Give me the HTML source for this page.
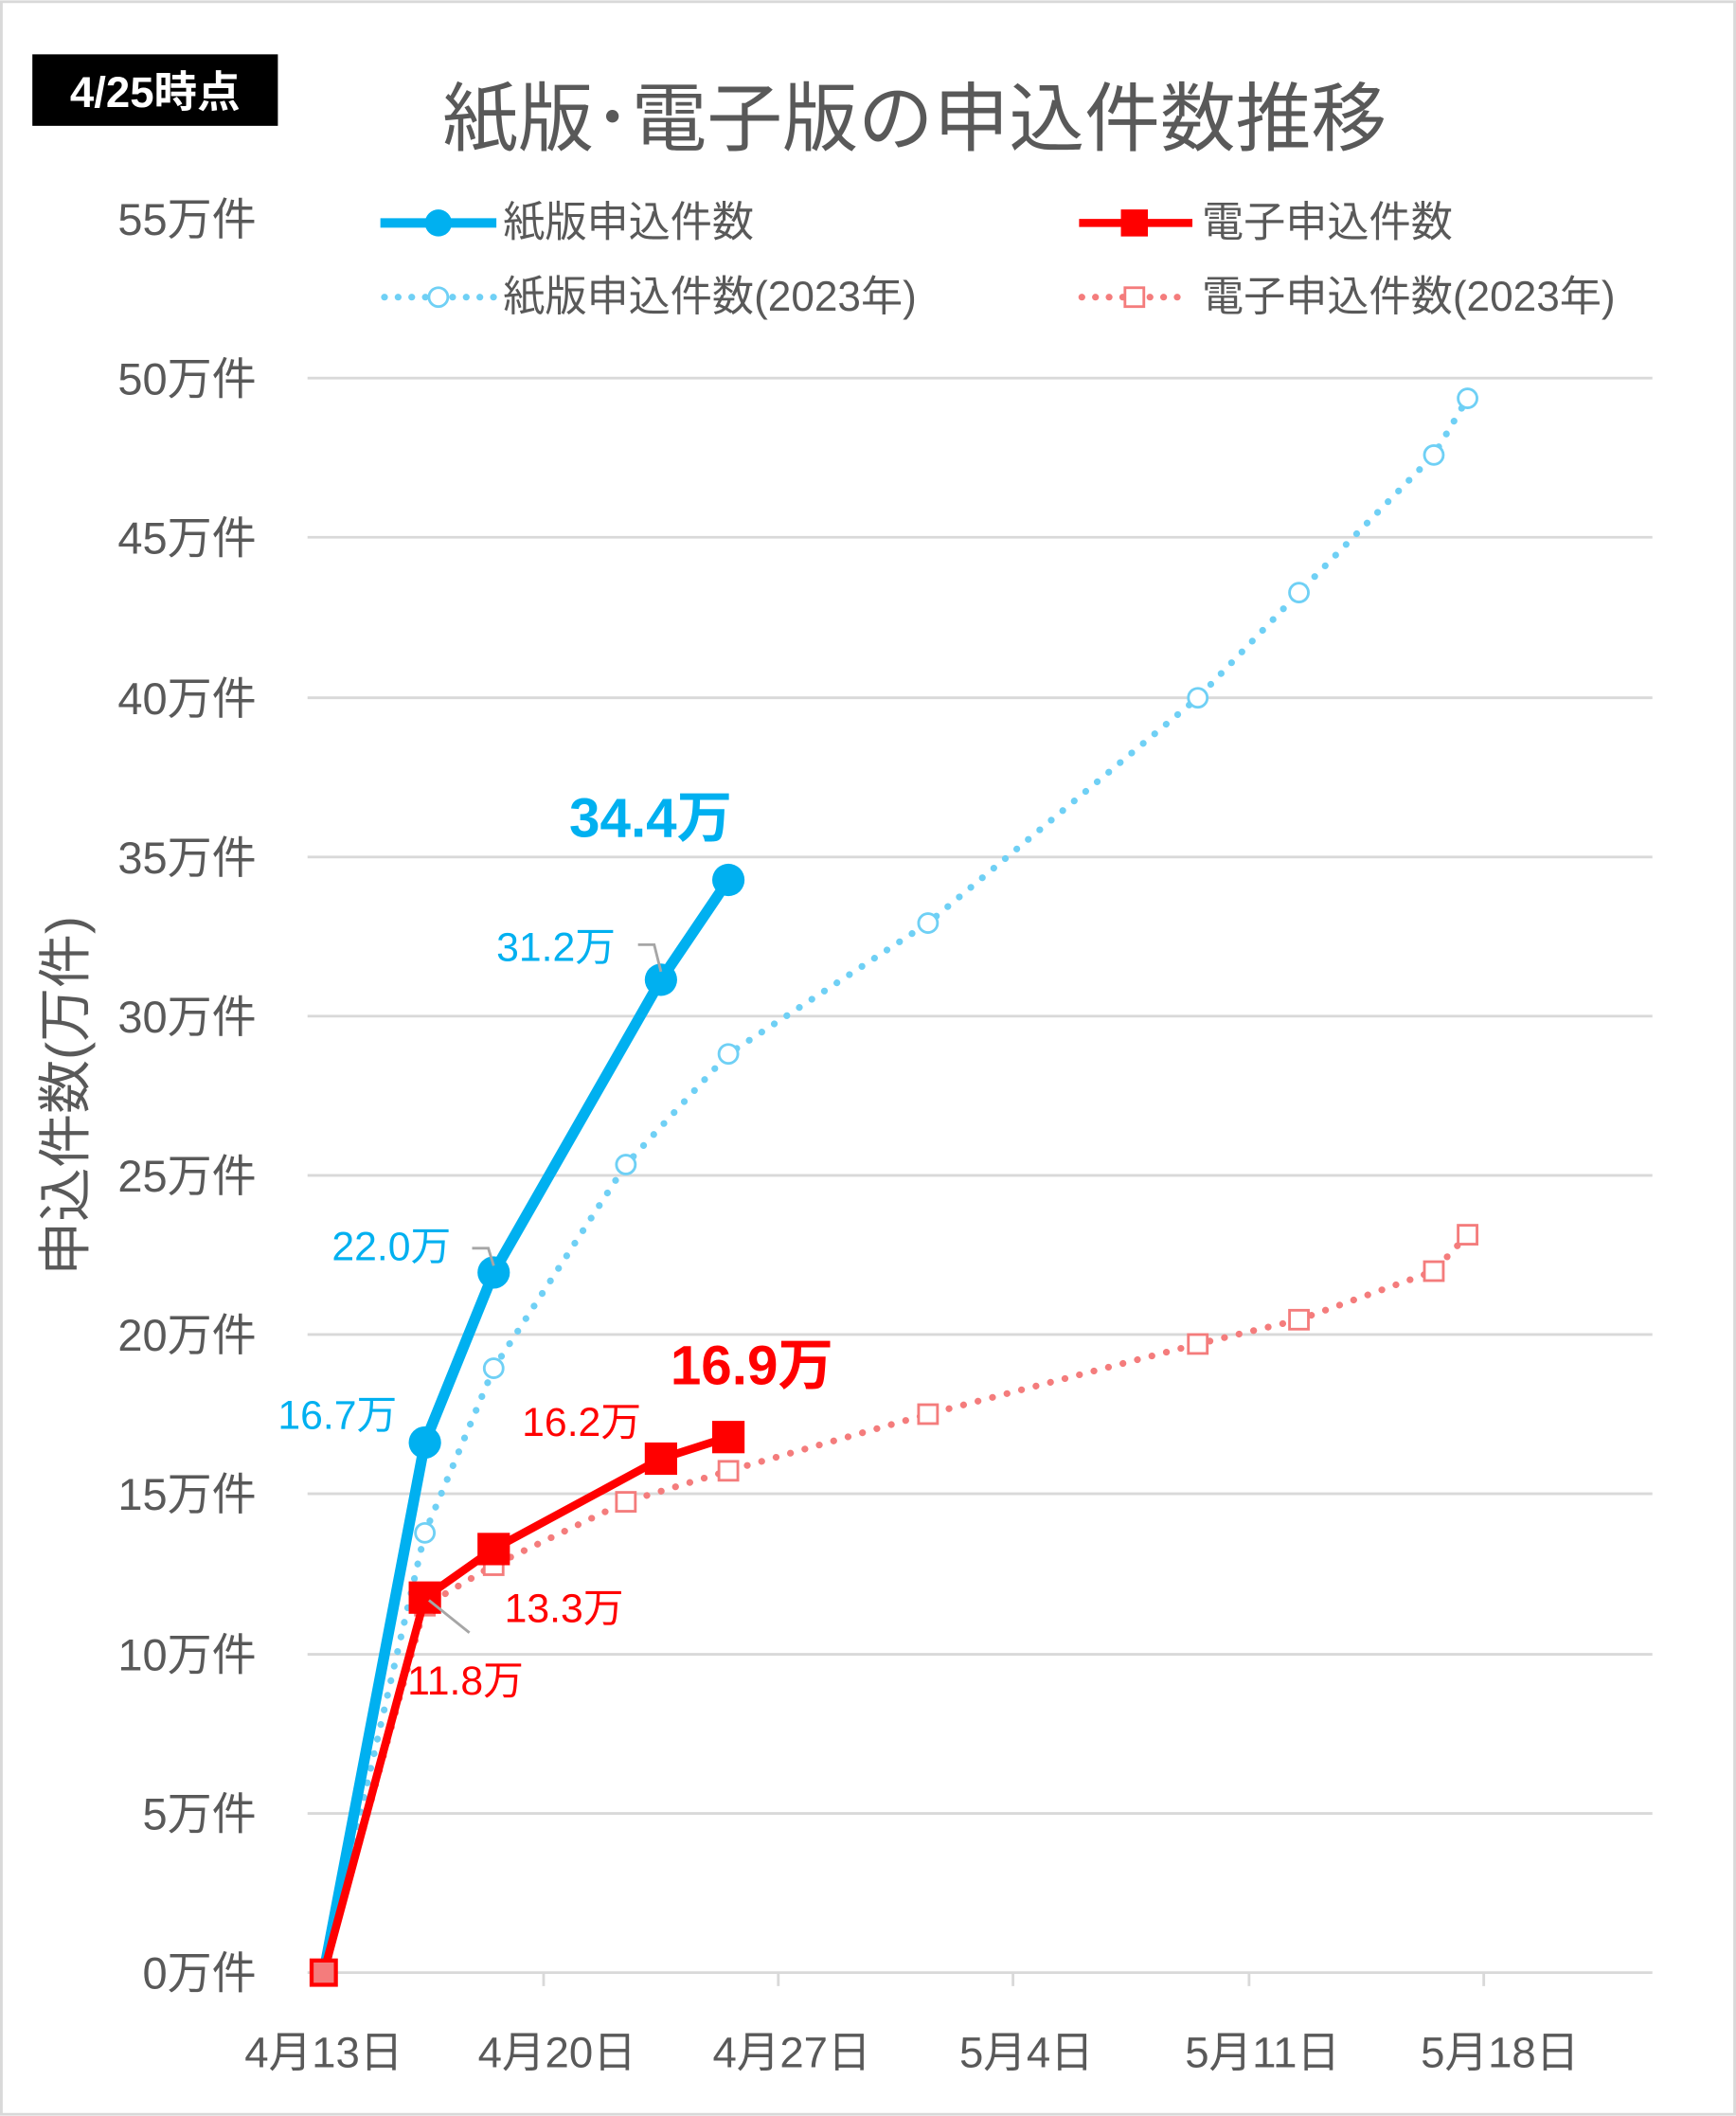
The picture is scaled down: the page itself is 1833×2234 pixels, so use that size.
<!DOCTYPE html>
<html><head><meta charset="utf-8"><style>
html,body{margin:0;padding:0;background:#fff;}
svg{display:block;}
text{font-family:"Liberation Sans","Noto Sans CJK JP",sans-serif;}
</style></head><body>
<svg width="1833" height="2234" viewBox="0 0 1287 1568" xmlns="http://www.w3.org/2000/svg">
<rect x="1" y="1" width="1285" height="1566" fill="#fff" stroke="#d9d9d9" stroke-width="2"/>
<rect x="24" y="40" width="182" height="53" fill="#000"/>
<text x="115" y="79" fill="#fff" font-size="32" font-weight="bold" text-anchor="middle">4/25時点</text>
<text x="678" y="107" fill="#595959" font-size="56" text-anchor="middle">紙版･電子版の申込件数推移</text>
<g stroke="#d9d9d9" stroke-width="2">
<line x1="228" y1="280" x2="1225" y2="280"/><line x1="228" y1="398" x2="1225" y2="398"/>
<line x1="228" y1="517" x2="1225" y2="517"/><line x1="228" y1="635" x2="1225" y2="635"/>
<line x1="228" y1="753" x2="1225" y2="753"/><line x1="228" y1="871" x2="1225" y2="871"/>
<line x1="228" y1="989" x2="1225" y2="989"/><line x1="228" y1="1107" x2="1225" y2="1107"/>
<line x1="228" y1="1226" x2="1225" y2="1226"/><line x1="228" y1="1344" x2="1225" y2="1344"/>
<line x1="228" y1="1462" x2="1225" y2="1462"/>
<line x1="403" y1="1462" x2="403" y2="1472"/><line x1="577" y1="1462" x2="577" y2="1472"/>
<line x1="751" y1="1462" x2="751" y2="1472"/><line x1="926" y1="1462" x2="926" y2="1472"/>
<line x1="1100" y1="1462" x2="1100" y2="1472"/>
</g>
<g fill="#595959" font-size="33" text-anchor="end">
<text x="190" y="174">55万件</text><text x="190" y="292">50万件</text><text x="190" y="410">45万件</text>
<text x="190" y="529">40万件</text><text x="190" y="647">35万件</text><text x="190" y="765">30万件</text>
<text x="190" y="883">25万件</text><text x="190" y="1001">20万件</text><text x="190" y="1119">15万件</text>
<text x="190" y="1238">10万件</text><text x="190" y="1356">5万件</text><text x="190" y="1474">0万件</text>
</g>
<g fill="#595959" font-size="32" text-anchor="middle">
<text x="240" y="1532">4月13日</text><text x="413" y="1532">4月20日</text><text x="587" y="1532">4月27日</text>
<text x="761" y="1532">5月4日</text><text x="936" y="1532">5月11日</text><text x="1112" y="1532">5月18日</text>
</g>
<text transform="translate(62,812) rotate(-90)" fill="#595959" font-size="40" text-anchor="middle">申込件数(万件)</text>
<!-- legend -->
<line x1="282" y1="165" x2="368" y2="165" stroke="#00b0f0" stroke-width="7"/><circle cx="325" cy="165" r="10" fill="#00b0f0"/>
<text x="373" y="175" fill="#595959" font-size="31">紙版申込件数</text>
<line x1="800" y1="165" x2="884" y2="165" stroke="#f00" stroke-width="6"/><rect x="831" y="155" width="20" height="20" fill="#f00"/>
<text x="891" y="175" fill="#595959" font-size="31">電子申込件数</text>
<line x1="285" y1="220" x2="366" y2="220" stroke="#6fd0f5" stroke-width="5" stroke-dasharray="0.1 10" stroke-linecap="round"/><circle cx="325" cy="220" r="7" fill="#fff" stroke="#6fd0f5" stroke-width="2"/>
<text x="373" y="230" fill="#595959" font-size="31">紙版申込件数(2023年)</text>
<line x1="802" y1="220" x2="882" y2="220" stroke="#f47c7c" stroke-width="5" stroke-dasharray="0.1 10" stroke-linecap="round"/><rect x="834" y="213" width="14" height="14" fill="#fff" stroke="#f47c7c" stroke-width="2"/>
<text x="891" y="230" fill="#595959" font-size="31">電子申込件数(2023年)</text>
<!-- dotted 2023 -->
<polyline points="240,1462 315,1136 366,1014 464,863 540,781 688,684 888,517 963,439 1063,337 1088,295" fill="none" stroke="#6fd0f5" stroke-width="5" stroke-dasharray="0.1 11" stroke-linecap="round"/>
<g fill="#fff" stroke="#6fd0f5" stroke-width="2">
<circle cx="315" cy="1136" r="7"/><circle cx="366" cy="1014" r="7"/><circle cx="464" cy="863" r="7"/><circle cx="540" cy="781" r="7"/><circle cx="688" cy="684" r="7"/><circle cx="888" cy="517" r="7"/><circle cx="963" cy="439" r="7"/><circle cx="1063" cy="337" r="7"/><circle cx="1088" cy="295" r="7"/>
</g>
<polyline points="240,1462 315,1190 366,1160 464,1113 540,1090 688,1048 888,996 963,978 1063,942 1088,915" fill="none" stroke="#f47c7c" stroke-width="5" stroke-dasharray="0.1 11" stroke-linecap="round"/>
<g fill="#fff" stroke="#f47c7c" stroke-width="2">
<rect x="308" y="1183" width="14" height="14"/><rect x="359" y="1153" width="14" height="14"/><rect x="457" y="1106" width="14" height="14"/><rect x="533" y="1083" width="14" height="14"/><rect x="681" y="1041" width="14" height="14"/><rect x="881" y="989" width="14" height="14"/><rect x="956" y="971" width="14" height="14"/><rect x="1056" y="935" width="14" height="14"/><rect x="1081" y="908" width="14" height="14"/>
</g>
<!-- main series -->
<polyline points="240,1462 315,1069 366,943 490,726 540,652" fill="none" stroke="#00b0f0" stroke-width="8" stroke-linejoin="round"/>
<g fill="#00b0f0"><circle cx="315" cy="1069" r="12"/><circle cx="366" cy="943" r="12"/><circle cx="490" cy="726" r="12"/><circle cx="540" cy="652" r="12"/></g>
<polyline points="240,1462 315,1184 366,1148 490,1081 540,1065" fill="none" stroke="#f00" stroke-width="6" stroke-linejoin="round"/>
<g fill="#f00"><rect x="303" y="1172" width="24" height="24"/><rect x="354" y="1136" width="24" height="24"/><rect x="478" y="1069" width="24" height="24"/><rect x="528" y="1053" width="24" height="24"/></g>
<rect x="231" y="1453" width="18" height="18" fill="#f47c7c" stroke="#f00" stroke-width="3"/>
<!-- leader lines -->
<g stroke="#a6a6a6" stroke-width="2" fill="none">
<polyline points="473,700 485,700 490,720"/><polyline points="350,925 362,925 366,938"/>
<polyline points="318,1186 348,1210"/>
</g>
<!-- labels -->
<g fill="#00b0f0" font-size="30">
<text x="368" y="712">31.2万</text><text x="246" y="934">22.0万</text><text x="206" y="1059">16.7万</text>
</g>
<text x="422" y="620" fill="#00b0f0" font-size="41" font-weight="bold">34.4万</text>
<g fill="#f00" font-size="30">
<text x="387" y="1064">16.2万</text><text x="374" y="1202">13.3万</text><text x="302" y="1256">11.8万</text>
</g>
<text x="497" y="1026" fill="#f00" font-size="41" font-weight="bold">16.9万</text>
</svg>
</body></html>
